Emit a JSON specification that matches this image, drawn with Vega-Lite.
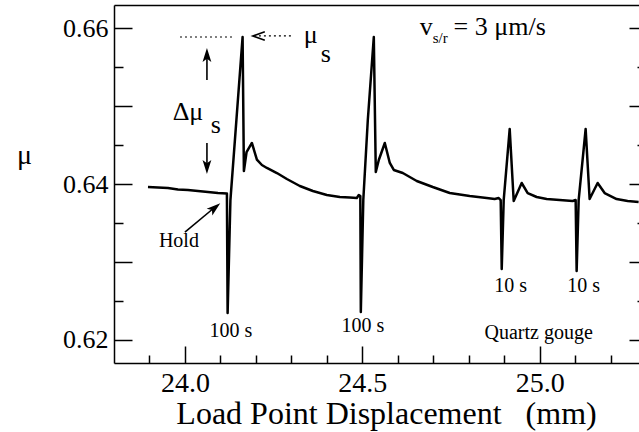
{
  "$schema": "https://vega.github.io/schema/vega-lite/v6.json",
  "width": 525,
  "height": 358,
  "autosize": {"type": "none"},
  "padding": {"left": 114, "top": 5, "right": 0, "bottom": 69},
  "background": "white",
  "config": {
    "view": {"stroke": null},
    "font": "Liberation Serif",
    "axis": {
      "grid": false,
      "domainColor": "black",
      "domainWidth": 1.5,
      "tickColor": "black",
      "tickWidth": 1.5,
      "labelColor": "black",
      "titleColor": "black",
      "labelFont": "Liberation Serif",
      "titleFont": "Liberation Serif",
      "titleFontWeight": "normal"
    }
  },
  "resolve": {"axis": {"x": "independent", "y": "independent"}},
  "datasets": {
    "curve": [
      {"x": 23.8958, "mu": 0.63961},
      {"x": 23.9239, "mu": 0.63955},
      {"x": 23.9521, "mu": 0.63949},
      {"x": 23.9803, "mu": 0.63929},
      {"x": 24.0085, "mu": 0.63923},
      {"x": 24.0366, "mu": 0.6391},
      {"x": 24.0648, "mu": 0.63897},
      {"x": 24.093, "mu": 0.63884},
      {"x": 24.1183, "mu": 0.63878},
      {"x": 24.1203, "mu": 0.62342},
      {"x": 24.1282, "mu": 0.63794},
      {"x": 24.1451, "mu": 0.64823},
      {"x": 24.1625, "mu": 0.65889},
      {"x": 24.1662, "mu": 0.64167},
      {"x": 24.1737, "mu": 0.64411},
      {"x": 24.1887, "mu": 0.64527},
      {"x": 24.2028, "mu": 0.64314},
      {"x": 24.2169, "mu": 0.64244},
      {"x": 24.231, "mu": 0.64206},
      {"x": 24.2592, "mu": 0.64141},
      {"x": 24.2873, "mu": 0.64064},
      {"x": 24.3239, "mu": 0.63974},
      {"x": 24.3606, "mu": 0.6391},
      {"x": 24.4, "mu": 0.63859},
      {"x": 24.4366, "mu": 0.63833},
      {"x": 24.4648, "mu": 0.63826},
      {"x": 24.4845, "mu": 0.6382},
      {"x": 24.4901, "mu": 0.63859},
      {"x": 24.4944, "mu": 0.63846},
      {"x": 24.4958, "mu": 0.62355},
      {"x": 24.5028, "mu": 0.63794},
      {"x": 24.5155, "mu": 0.64823},
      {"x": 24.5324, "mu": 0.65889},
      {"x": 24.538, "mu": 0.64154},
      {"x": 24.5465, "mu": 0.64308},
      {"x": 24.5634, "mu": 0.64527},
      {"x": 24.5775, "mu": 0.6427},
      {"x": 24.5887, "mu": 0.6418},
      {"x": 24.6141, "mu": 0.64141},
      {"x": 24.6535, "mu": 0.64039},
      {"x": 24.6986, "mu": 0.63961},
      {"x": 24.7465, "mu": 0.63884},
      {"x": 24.8028, "mu": 0.63846},
      {"x": 24.8507, "mu": 0.6382},
      {"x": 24.8732, "mu": 0.63807},
      {"x": 24.8845, "mu": 0.6382},
      {"x": 24.8901, "mu": 0.63794},
      {"x": 24.893, "mu": 0.62907},
      {"x": 24.8986, "mu": 0.63794},
      {"x": 24.9155, "mu": 0.64707},
      {"x": 24.9268, "mu": 0.63781},
      {"x": 24.9493, "mu": 0.64013},
      {"x": 24.9662, "mu": 0.63884},
      {"x": 24.9915, "mu": 0.63833},
      {"x": 25.0197, "mu": 0.63807},
      {"x": 25.0563, "mu": 0.63794},
      {"x": 25.093, "mu": 0.63781},
      {"x": 25.1014, "mu": 0.63794},
      {"x": 25.1042, "mu": 0.62882},
      {"x": 25.1099, "mu": 0.63794},
      {"x": 25.1296, "mu": 0.64707},
      {"x": 25.1408, "mu": 0.63807},
      {"x": 25.1634, "mu": 0.64013},
      {"x": 25.1831, "mu": 0.63884},
      {"x": 25.2169, "mu": 0.63807},
      {"x": 25.2479, "mu": 0.63781},
      {"x": 25.2789, "mu": 0.63769}
    ],
    "dashed": [
      {"x": 23.986, "x2": 24.141, "y": 0.65889},
      {"x": 24.2085, "x2": 24.3042, "y": 0.65902}
    ],
    "solid": [
      {"x": 24.062, "x2": 24.062, "y": 0.65337, "y2": 0.65671},
      {"x": 24.062, "x2": 24.062, "y": 0.64527, "y2": 0.64206},
      {"x": 24.0, "x2": 24.0834, "y": 0.63383, "y2": 0.63698}
    ],
    "headUp": [{"x": 24.062, "y": 0.65645}],
    "headDown": [{"x": 24.062, "y": 0.64232}],
    "headHold": [{"x": 24.0822, "y": 0.63688}],
    "headLeft": [{"x": 24.2113, "y": 0.65902}],
    "bigText": [
      {"x": 24.3549, "y": 0.65812, "label": "μ"},
      {"x": 24.3972, "y": 0.65568, "label": "s"},
      {"x": 24.0085, "y": 0.64823, "label": "Δμ"},
      {"x": 24.0873, "y": 0.64656, "label": "s"},
      {"x": 24.6803, "y": 0.65915, "label": "v"},
      {"x": 24.8873, "y": 0.65915, "label": "= 3 μm/s"}
    ],
    "subText": [
      {"x": 24.7197, "y": 0.65812, "label": "s/r"}
    ],
    "noteText": [
      {"x": 23.983, "y": 0.6319, "label": "Hold"},
      {"x": 24.1296, "y": 0.62033, "label": "100 s"},
      {"x": 24.5014, "y": 0.62098, "label": "100 s"},
      {"x": 24.9183, "y": 0.62612, "label": "10 s"},
      {"x": 25.1239, "y": 0.62612, "label": "10 s"},
      {"x": 24.9972, "y": 0.62008, "label": "Quartz gouge"}
    ]
  },
  "layer": [
    {
      "data": {"name": "curve"},
      "mark": {"type": "line", "color": "black", "strokeWidth": 2.5, "strokeJoin": "round"},
      "encoding": {
        "x": {
          "field": "x", "type": "quantitative",
          "scale": {"domain": [23.8, 25.28], "nice": false, "zero": false},
          "axis": {
            "orient": "bottom", "values": [24, 24.5, 25], "format": ".1f",
            "ticks": false, "domain": true, "labelFont": "Liberation Serif", "labelFontSize": 28, "labelPadding": 6, "labelFlush": false,
            "title": "Load Point Displacement \u00a0\u00a0(mm)", "titleFont": "Liberation Serif", "titleFontSize": 32,
            "titleX": 272, "titleY": 60, "titleAlign": "center", "titleBaseline": "alphabetic"
          }
        },
        "y": {
          "field": "mu", "type": "quantitative",
          "scale": {"domain": [0.617, 0.663], "nice": false, "zero": false},
          "axis": {
            "orient": "left", "values": [0.62, 0.64, 0.66], "format": ".2f",
            "ticks": false, "domain": true, "labelFont": "Liberation Serif", "labelFontSize": 26, "labelPadding": 6, "labelFlush": false,
            "title": "μ", "titleFont": "Liberation Serif", "titleFontSize": 28, "titleAngle": 0,
            "titleX": -90, "titleY": 150, "titleAlign": "center", "titleBaseline": "middle"
          }
        }
      }
    },
    {
      "data": {"name": "dashed"},
      "mark": {"type": "rule", "color": "black", "strokeWidth": 1.2, "strokeDash": [2, 3]},
      "encoding": {
        "x": {"field": "x", "type": "quantitative", "scale": {"domain": [23.8, 25.28], "nice": false, "zero": false},
          "axis": {"orient": "bottom", "values": [24, 24.5, 25], "labels": false, "domain": false, "tickSize": -17, "title": null}},
        "x2": {"field": "x2"},
        "y": {"field": "y", "type": "quantitative", "scale": {"domain": [0.617, 0.663], "nice": false, "zero": false},
          "axis": {"orient": "left", "values": [0.62, 0.63, 0.64, 0.65, 0.66], "labels": false, "domain": false, "tickSize": -18, "title": null}}
      }
    },
    {
      "data": {"name": "solid"},
      "mark": {"type": "rule", "color": "black", "strokeWidth": 1.6},
      "encoding": {
        "x": {"field": "x", "type": "quantitative", "scale": {"domain": [23.8, 25.28], "nice": false, "zero": false},
          "axis": {"orient": "bottom", "values": [23.9, 24.1, 24.2, 24.3, 24.4, 24.6, 24.7, 24.8, 24.9, 25.1, 25.2], "labels": false, "domain": false, "tickSize": -8, "title": null}},
        "x2": {"field": "x2"},
        "y": {"field": "y", "type": "quantitative", "scale": {"domain": [0.617, 0.663], "nice": false, "zero": false},
          "axis": {"orient": "left", "values": [0.625, 0.635, 0.645, 0.655], "labels": false, "domain": false, "tickSize": -9, "title": null}},
        "y2": {"field": "y2"}
      }
    },
    {
      "data": {"name": "headUp"},
      "mark": {"type": "point", "shape": "M0,-1L0.55,0.75L0,0.35L-0.55,0.75Z", "filled": true, "color": "black", "size": 256, "opacity": 1},
      "encoding": {
        "x": {"field": "x", "type": "quantitative", "scale": {"domain": [23.8, 25.28], "nice": false, "zero": false},
          "axis": {"orient": "top", "ticks": false, "labels": false, "domain": true, "title": null}},
        "y": {"field": "y", "type": "quantitative", "scale": {"domain": [0.617, 0.663], "nice": false, "zero": false},
          "axis": {"orient": "right", "values": [0.62, 0.63, 0.64, 0.65, 0.66], "labels": false, "domain": false, "tickSize": -10, "title": null}}
      }
    },
    {
      "data": {"name": "headDown"},
      "mark": {"type": "point", "shape": "M0,-1L0.55,0.75L0,0.35L-0.55,0.75Z", "filled": true, "color": "black", "size": 256, "opacity": 1, "angle": 180},
      "encoding": {
        "x": {"field": "x", "type": "quantitative", "scale": {"domain": [23.8, 25.28], "nice": false, "zero": false}, "axis": null},
        "y": {"field": "y", "type": "quantitative", "scale": {"domain": [0.617, 0.663], "nice": false, "zero": false},
          "axis": {"orient": "right", "values": [0.625, 0.635, 0.645, 0.655], "labels": false, "domain": false, "tickSize": -2, "title": null}}
      }
    },
    {
      "data": {"name": "headHold"},
      "mark": {"type": "point", "shape": "M0,-1L0.55,0.75L0,0.35L-0.55,0.75Z", "filled": true, "color": "black", "size": 256, "opacity": 1, "angle": 50},
      "encoding": {
        "x": {"field": "x", "type": "quantitative", "scale": {"domain": [23.8, 25.28], "nice": false, "zero": false}, "axis": null},
        "y": {"field": "y", "type": "quantitative", "scale": {"domain": [0.617, 0.663], "nice": false, "zero": false}, "axis": null}
      }
    },
    {
      "data": {"name": "headLeft"},
      "mark": {"type": "point", "shape": "M-0.6,0.7L0,-1L0.6,0.7", "filled": false, "color": "black", "strokeWidth": 1.6, "size": 196, "opacity": 1, "angle": 270},
      "encoding": {
        "x": {"field": "x", "type": "quantitative", "scale": {"domain": [23.8, 25.28], "nice": false, "zero": false}, "axis": null},
        "y": {"field": "y", "type": "quantitative", "scale": {"domain": [0.617, 0.663], "nice": false, "zero": false}, "axis": null}
      }
    },
    {
      "data": {"name": "bigText"},
      "mark": {"type": "text", "font": "Liberation Serif", "fontSize": 26, "color": "black", "align": "center", "baseline": "alphabetic"},
      "encoding": {
        "x": {"field": "x", "type": "quantitative", "scale": {"domain": [23.8, 25.28], "nice": false, "zero": false}, "axis": null},
        "y": {"field": "y", "type": "quantitative", "scale": {"domain": [0.617, 0.663], "nice": false, "zero": false}, "axis": null},
        "text": {"field": "label"}
      }
    },
    {
      "data": {"name": "subText"},
      "mark": {"type": "text", "font": "Liberation Serif", "fontSize": 15, "color": "black", "align": "center", "baseline": "alphabetic"},
      "encoding": {
        "x": {"field": "x", "type": "quantitative", "scale": {"domain": [23.8, 25.28], "nice": false, "zero": false}, "axis": null},
        "y": {"field": "y", "type": "quantitative", "scale": {"domain": [0.617, 0.663], "nice": false, "zero": false}, "axis": null},
        "text": {"field": "label"}
      }
    },
    {
      "data": {"name": "noteText"},
      "mark": {"type": "text", "font": "Liberation Serif", "fontSize": 20, "color": "black", "align": "center", "baseline": "alphabetic"},
      "encoding": {
        "x": {"field": "x", "type": "quantitative", "scale": {"domain": [23.8, 25.28], "nice": false, "zero": false}, "axis": null},
        "y": {"field": "y", "type": "quantitative", "scale": {"domain": [0.617, 0.663], "nice": false, "zero": false}, "axis": null},
        "text": {"field": "label"}
      }
    }
  ]
}
